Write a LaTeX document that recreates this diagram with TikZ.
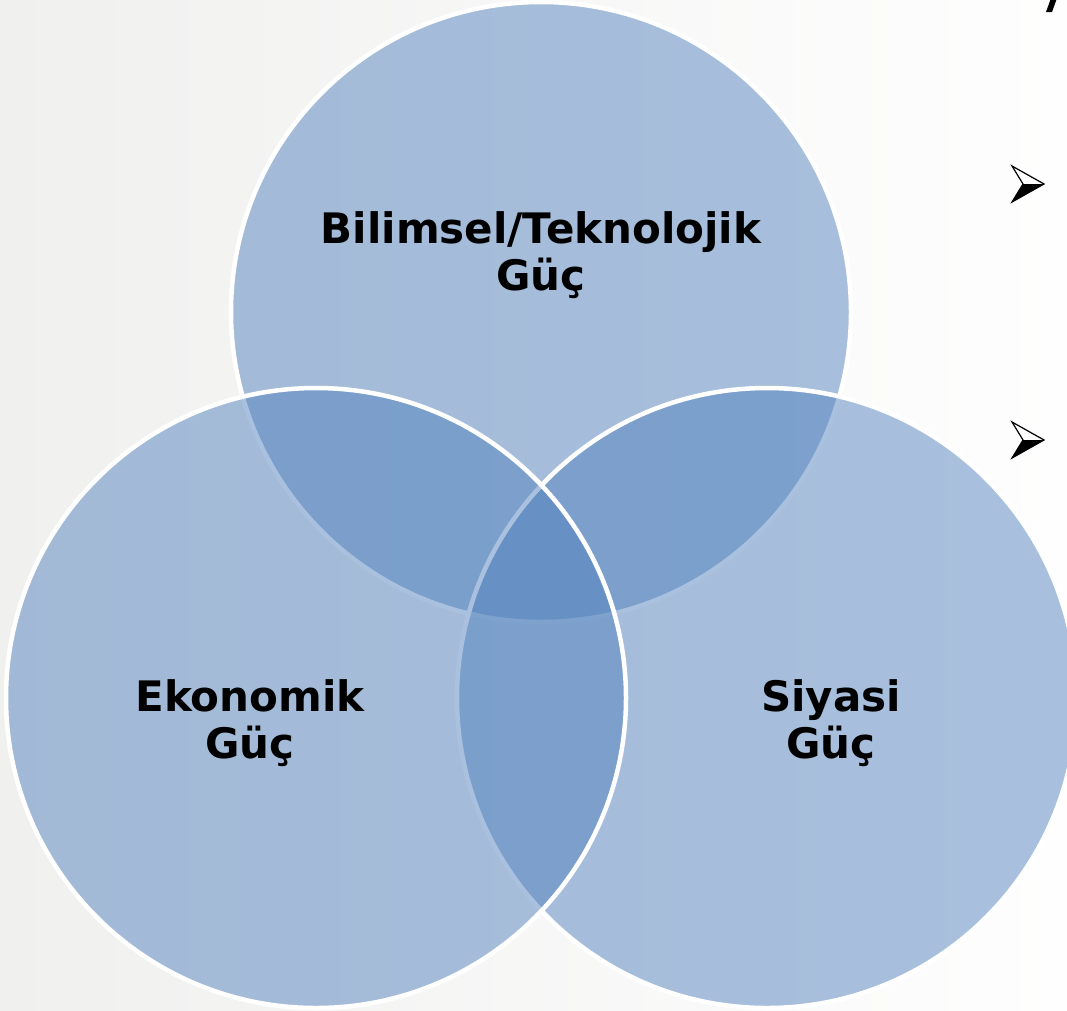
\documentclass[tikz,border=0pt]{standalone}
\usepackage{fontspec}
\setmainfont{DejaVu Sans}
\definecolor{gucmavi}{RGB}{84,132,190}
\definecolor{zemin}{RGB}{240,240,239}
\begin{document}
\begin{tikzpicture}[line join=round, line cap=round, x=1pt, y=-1pt,
    daire/.style={fill=gucmavi, fill opacity=0.5, draw=white, line width=4.5pt},
    yazi/.style={text=black, font=\fontsize{42}{47}\selectfont\bfseries, align=center, inner sep=0pt},
    madde/.style={draw=black, line width=1.2pt, line join=miter},
    declare function={R=310;}
    ]
    % zemin
    \shade[left color=zemin, right color=white!94!zemin] (0,0) rectangle (1067,1010);
    \useasboundingbox (0,0) rectangle (1067,1010);
    \path
    (541,312) coordinate (bilim)
    (767,698) coordinate (siyasi)
    (316,698) coordinate (ekonomi);
    % sira: ust, sag, sol
    \foreach \m in {bilim,siyasi,ekonomi}
    \draw[daire] (\m) circle (R);
    \node[yazi] (tbilim) at (541,255) {Bilimsel/Teknolojik\\Güç};
    \node[yazi] (tekonomi) at (250,723) {Ekonomik\\Güç};
    \node[yazi] (tsiyasi) at (831,723) {Siyasi\\Güç};
    % sag kenardaki maddeler
    \foreach \y in {0,256}{
    \fill[white] (1012,166+\y)--(1044,184+\y)--(1023,184+\y)--cycle;
    \fill[black] (1023,184+\y)--(1044,184+\y)--(1012,202+\y)--cycle;
    \draw[madde] (1012,166+\y)--(1044,184+\y)--(1012,202+\y)--(1023,184+\y)--cycle;
    }
    \fill[black] (1046,12)--(1052,12)--(1057,-2)--(1051,-2)--cycle;
\end{tikzpicture}
\end{document}
